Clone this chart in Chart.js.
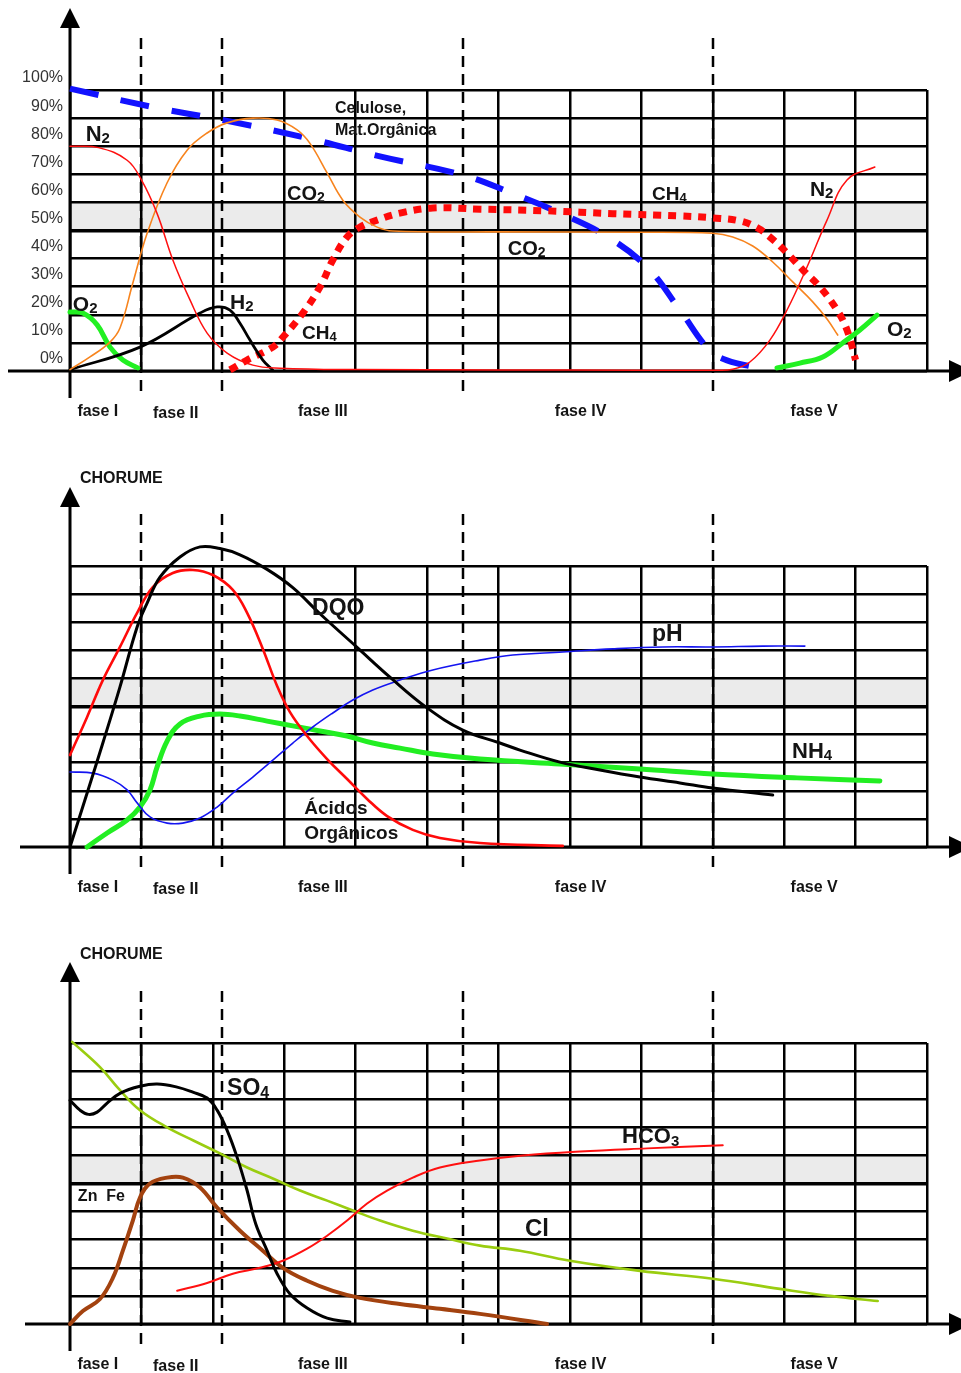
<!DOCTYPE html>
<html>
<head>
<meta charset="utf-8">
<script src="https://cdn.jsdelivr.net/npm/chart.js@4.4.0/dist/chart.umd.min.js"></script>
<style>
html,body{margin:0;padding:0;background:#fff;}
body{width:961px;height:1373px;overflow:hidden;position:relative;}
canvas{position:absolute;left:0;}
</style>
</head>
<body>
<canvas id="c1" width="961" height="476" style="top:-16px"></canvas>
<canvas id="c2" width="961" height="476" style="top:460px"></canvas>
<canvas id="c3" width="961" height="476" style="top:937px"></canvas>
<script>
// ---------------- shared axes / categories ----------------
const X_COLUMNS = 12;                       // grid columns (time units)
const Y_TICKS = [0,10,20,30,40,50,60,70,80,90,100];
const Y_TICK_LABELS = ['0%','10%','20%','30%','40%','50%','60%','70%','80%','90%','100%'];
const BAND = [50, 60];                      // shaded band
const PHASE_BOUNDS = [1, 2.13, 5.5, 9];     // dashed phase separators
const PHASE_NAMES = ['fase I','fase II','fase III','fase IV','fase V'];
const PHASE_NAME_X = [0.39, 1.48, 3.54, 7.15, 10.42];

// ---------------- Panel 1 : gas composition ----------------
const celuloseX = [0, 1.15, 2.2, 3.32, 4.37, 5.49, 6.19, 6.86, 7.53, 8.09, 8.54, 8.95, 9.2, 9.66];
const celuloseY = [100.5, 94, 89, 82.9, 76.2, 69.8, 63.3, 56.2, 47.7, 36.7, 21.7, 7.5, 3.8, 1.0];

const n2X = [0, 0.4, 0.8, 1.0, 1.22, 1.44, 1.68, 1.92, 2.2, 2.56, 2.94, 4.0, 6.0, 8.0, 9.0, 9.28, 9.52, 9.8, 10.04, 10.32, 10.6, 10.88, 11.27];
const n2Y = [80, 79.5, 75, 68, 56, 39.5, 25.3, 13.5, 6.4, 2.1, 1.0, 0.5, 0.4, 0.3, 0.3, 0.6, 3.2, 11, 21.7, 37, 53.7, 68, 72.6];

const co2X = [0, 0.28, 0.56, 0.7, 0.88, 1.08, 1.36, 1.64, 1.92, 2.2, 2.56, 2.9, 3.18, 3.36, 3.6, 3.82, 4.06, 4.3, 4.52, 6.0, 8.0, 9.0, 9.28, 9.56, 9.84, 10.12, 10.4, 10.6, 10.75];
const co2Y = [0.5, 5, 10.3, 15.3, 31.3, 49, 67, 78.6, 84.7, 88.3, 90, 89.3, 85.8, 81, 70.5, 60.8, 54.8, 51.2, 49.8, 49.5, 49.4, 49, 47.7, 44.5, 38.8, 31.7, 24.6, 18.5, 12.8];

const ch4X = [2.24, 2.48, 2.84, 2.98, 3.26, 3.5, 3.68, 3.88, 4.06, 4.3, 4.62, 5.08, 5.74, 6.68, 7.6, 8.54, 9.0, 9.38, 9.62, 9.8, 10.04, 10.26, 10.5, 10.74, 10.88, 11.0];
const ch4Y = [0.4, 3.9, 8.5, 12, 20.6, 29.9, 39.5, 47.7, 51.2, 53.7, 56.2, 58, 57.6, 57, 56, 55.2, 54.5, 53.4, 51, 47.7, 42, 36, 29.9, 21.7, 14.6, 3.9];

const o2StartX = [0, 0.18, 0.38, 0.56, 0.74, 0.95];
const o2StartY = [21, 20.6, 16.4, 8.5, 3.9, 1.1];
const o2EndX = [9.9, 10.22, 10.54, 10.82, 11.06, 11.3];
const o2EndY = [1.1, 2.8, 5, 10, 14.6, 19.9];

const h2X = [0, 0.98, 1.82, 2.06, 2.24, 2.38, 2.52, 2.7, 2.84];
const h2Y = [0.5, 8.5, 20.6, 22.8, 21.7, 17, 11, 3.9, 0.3];

// ---------------- Panel 2 : leachate (DQO, acids, pH, NH4) ----------------
const dqoX = [0, 0.24, 0.46, 0.7, 0.94, 1.08, 1.26, 1.54, 1.82, 2.1, 2.38, 2.76, 3.12, 3.5, 4.0, 4.5, 5.0, 5.5, 6.02, 6.3, 6.86, 7.42, 7.98, 8.54, 9.0, 9.84];
const dqoY = [0, 19.2, 37, 57, 78.3, 86.8, 96, 103.2, 106.8, 106.2, 104, 98.8, 92.3, 83, 71.5, 60, 49.5, 41.6, 37, 34.5, 30.2, 27.4, 24.9, 22.8, 21, 18.5];

const acidosX = [0, 0.24, 0.46, 0.7, 0.94, 1.16, 1.44, 1.72, 2.0, 2.28, 2.48, 2.7, 2.9, 3.08, 3.32, 3.6, 3.88, 4.16, 4.44, 4.8, 5.18, 5.74, 6.9];
const acidosY = [32.7, 46.3, 59.4, 71.2, 83.3, 92.5, 97.5, 98.6, 96.8, 91.5, 83.3, 70.5, 57.3, 48, 39.5, 31.3, 24.2, 17.1, 11, 6.1, 3.2, 1.4, 0.4];

const phX = [0, 0.32, 0.6, 0.8, 0.94, 1.12, 1.36, 1.58, 1.82, 2.06, 2.28, 2.56, 2.84, 3.12, 3.4, 3.68, 3.96, 4.24, 4.62, 5.08, 5.74, 6.2, 6.9, 7.6, 8.3, 9.0, 9.7, 10.29];
const phY = [26.7, 26.3, 23.8, 20.3, 15.7, 10.7, 8.5, 8.5, 10.3, 14.2, 19.2, 24.9, 30.9, 37, 42.7, 47.7, 52.3, 55.9, 59.4, 63, 66.5, 68.3, 69.4, 70.5, 71.2, 71.2, 71.5, 71.5];

const nh4X = [0.24, 0.52, 0.8, 0.98, 1.12, 1.22, 1.36, 1.54, 1.82, 2.1, 2.38, 2.76, 3.12, 3.5, 3.88, 4.24, 4.62, 5.08, 5.74, 6.86, 7.98, 9.0, 10.18, 11.34];
const nh4Y = [0, 5, 9.6, 14.2, 20.3, 28.5, 37.7, 43.8, 46.6, 47.3, 46.6, 44.8, 43.1, 41.3, 39.5, 37, 35.2, 33.1, 31.3, 29.5, 27.8, 26, 24.6, 23.5];

// ---------------- Panel 3 : leachate (Cl, SO4, Zn/Fe, HCO3) ----------------
const clX = [0.03, 0.42, 0.7, 0.98, 1.36, 1.72, 2.1, 2.48, 2.84, 3.22, 3.6, 3.96, 4.34, 4.8, 5.28, 5.74, 6.3, 7.0, 7.98, 9.0, 9.94, 10.64, 11.31];
const clY = [100.4, 91.4, 83.2, 76.1, 70, 65.4, 60.7, 55.7, 51.8, 47.5, 43.9, 40.4, 36.8, 33.2, 30.4, 27.9, 26.1, 22.5, 18.9, 16.1, 12.5, 10, 8.2];

const so4X = [0, 0.14, 0.26, 0.38, 0.52, 0.7, 0.98, 1.22, 1.5, 1.72, 1.92, 2.06, 2.2, 2.34, 2.48, 2.6, 2.76, 2.9, 3.08, 3.32, 3.6, 3.92];
const so4Y = [79.6, 76.1, 74.6, 75.4, 78.6, 82.1, 84.6, 85.4, 84.3, 82.5, 80.4, 76.1, 68.9, 59.3, 47.5, 35.7, 26.1, 17.9, 10.7, 5.7, 2.1, 0.7];

const znFeX = [0, 0.18, 0.42, 0.6, 0.74, 0.88, 0.98, 1.12, 1.36, 1.58, 1.82, 2.06, 2.38, 2.7, 2.98, 3.32, 3.68, 4.06, 4.62, 5.18, 5.74, 6.68];
const znFeY = [0, 4.6, 8.9, 16.4, 26.1, 36.8, 45, 50, 52.1, 52.1, 48.6, 41.4, 33.2, 26.1, 20, 15.4, 11.8, 9.3, 7.1, 5.4, 3.6, 0];

const hco3X = [1.5, 1.92, 2.28, 2.66, 2.98, 3.32, 3.6, 3.88, 4.16, 4.44, 4.8, 5.18, 5.74, 6.34, 7.14, 8.08, 9.14];
const hco3Y = [11.8, 14.6, 17.9, 20, 22.5, 26.8, 31.4, 36.8, 42.9, 47.5, 52.1, 55.7, 58.2, 60, 61.4, 62.5, 63.6];

// ---------------- drawing helpers ----------------
const FONT = '"Liberation Sans", Arial, Helvetica, sans-serif';
const TEXT_COLOR = '#141414';

function drawLabel(ctx, txt, px, py, size, align) {
  ctx.save();
  ctx.fillStyle = TEXT_COLOR;
  ctx.textBaseline = 'alphabetic';
  ctx.textAlign = 'left';
  const base = py + size * 0.36;
  const parts = [];
  for (const ch of txt) {
    const sub = /[0-9]/.test(ch);
    if (parts.length && parts[parts.length - 1].sub === sub) parts[parts.length - 1].t += ch;
    else parts.push({ t: ch, sub });
  }
  let w = 0;
  parts.forEach(p => {
    p.size = p.sub ? Math.round(size * 0.7) : size;
    ctx.font = 'bold ' + p.size + 'px ' + FONT;
    p.w = ctx.measureText(p.t).width;
    w += p.w;
  });
  let x = align === 'center' ? px - w / 2 : px;
  parts.forEach(p => {
    ctx.font = 'bold ' + p.size + 'px ' + FONT;
    ctx.fillText(p.t, x, p.sub ? base + size * 0.1 : base);
    x += p.w;
  });
  ctx.restore();
}

function panelPlugin(cfg) {
  return {
    id: 'panelDecor',
    beforeDraw(chart) {
      const { ctx, scales: { x, y } } = chart;
      ctx.save();
      ctx.fillStyle = '#ebebeb';
      const t = y.getPixelForValue(BAND[1]), b = y.getPixelForValue(BAND[0]);
      const l = x.getPixelForValue(0), r = x.getPixelForValue(X_COLUMNS);
      ctx.fillRect(l, t, r - l, b - t);
      ctx.restore();
    },
    beforeDatasetsDraw(chart) {
      const { ctx, chartArea, scales: { x, y } } = chart;
      ctx.save();
      ctx.strokeStyle = '#000';
      ctx.lineWidth = 2.5;
      ctx.setLineDash([11, 7]);
      PHASE_BOUNDS.forEach(v => {
        const px = Math.round(x.getPixelForValue(v));
        ctx.beginPath();
        ctx.moveTo(px, chartArea.top - 52);
        ctx.lineTo(px, chartArea.bottom + 27);
        ctx.stroke();
      });
      ctx.setLineDash([]);
      const x0 = x.getPixelForValue(0), y0 = y.getPixelForValue(0);
      ctx.lineWidth = 3;
      ctx.beginPath();
      ctx.moveTo(x0, chartArea.top - cfg.arrowTop + 18);
      ctx.lineTo(x0, chartArea.bottom + 27);
      ctx.stroke();
      ctx.beginPath();
      ctx.moveTo(cfg.axisLeft, y0);
      ctx.lineTo(952, y0);
      ctx.stroke();
      ctx.fillStyle = '#000';
      ctx.beginPath();
      ctx.moveTo(x0, chartArea.top - cfg.arrowTop);
      ctx.lineTo(x0 - 10, chartArea.top - cfg.arrowTop + 20);
      ctx.lineTo(x0 + 10, chartArea.top - cfg.arrowTop + 20);
      ctx.closePath();
      ctx.fill();
      ctx.beginPath();
      ctx.moveTo(972, y0);
      ctx.lineTo(949, y0 - 11);
      ctx.lineTo(949, y0 + 11);
      ctx.closePath();
      ctx.fill();
      ctx.restore();
    },
    afterDatasetsDraw(chart) {
      const { ctx, chartArea, scales: { x, y } } = chart;
      PHASE_NAMES.forEach((n, i) => {
        drawLabel(ctx, n, x.getPixelForValue(PHASE_NAME_X[i]), chartArea.bottom + (i === 1 ? 41 : 39), 16, 'center');
      });
      cfg.labels.forEach(L => {
        drawLabel(ctx, L[0], x.getPixelForValue(L[1]), y.getPixelForValue(L[2]), L[3], 'left');
      });
    }
  };
}

function makeChart(id, series, cfg) {
  const datasets = series.map(s => ({
    data: s.x.map((v, i) => ({ x: v, y: s.y[i] })),
    borderColor: s.color,
    borderWidth: s.width,
    borderDash: s.dash || [],
    borderCapStyle: s.dash ? 'butt' : 'round',
    borderJoinStyle: 'round',
    pointRadius: 0,
    fill: false,
    tension: 0.4,
    clip: false
  }));
  return new Chart(document.getElementById(id), {
    type: 'line',
    data: { datasets },
    options: {
      responsive: false,
      animation: false,
      events: [],
      layout: { padding: { top: 106, right: 34, left: 0, bottom: 0 } },
      plugins: { legend: { display: false }, tooltip: { enabled: false } },
      scales: {
        x: {
          type: 'linear', min: 0, max: X_COLUMNS,
          afterFit: s => { s.height = 89; },
          ticks: { display: false, stepSize: 1 },
          grid: { color: '#000', lineWidth: 2.5, drawTicks: false },
          border: { display: false }
        },
        y: {
          type: 'linear', min: 0, max: 100,
          afterFit: s => { s.width = 70; },
          afterBuildTicks: s => { s.ticks = Y_TICKS.map(v => ({ value: v })); },
          ticks: {
            display: cfg.yLabels,
            callback: (v) => Y_TICK_LABELS[Y_TICKS.indexOf(v)],
            labelOffset: -12,
            padding: 7,
            color: '#333',
            font: { family: FONT, size: 16 }
          },
          grid: {
            color: '#000',
            lineWidth: c => (c.tick && c.tick.value === BAND[0]) ? 3.5 : 2.5,
            drawTicks: false
          },
          border: { display: false }
        }
      }
    },
    plugins: [panelPlugin(cfg)]
  });
}

// ---------------- Panel 1 ----------------
makeChart('c1', [
  { x: n2X, y: n2Y, color: '#ff1010', width: 1.5 },
  { x: co2X, y: co2Y, color: '#f7841e', width: 1.6 },
  { x: h2X, y: h2Y, color: '#000000', width: 2.8 },
  { x: o2StartX, y: o2StartY, color: '#22f022', width: 5 },
  { x: o2EndX, y: o2EndY, color: '#22f022', width: 5 },
  { x: ch4X, y: ch4Y, color: '#ff0a0a', width: 7, dash: [8, 7] },
  { x: celuloseX, y: celuloseY, color: '#1212ff', width: 6, dash: [29, 23] }
], {
  yLabels: true, arrowTop: 82, axisLeft: 8,
  labels: [
    ['N2', 0.22, 84.7, 22], ['O2', 0.04, 24.2, 21], ['H2', 2.24, 24.9, 21],
    ['CH4', 3.25, 13.9, 19], ['CO2', 3.04, 63.3, 20],
    ['Celulose,', 3.71, 94, 16], ['Mat.Orgânica', 3.71, 86.1, 16],
    ['CH4', 8.15, 63.3, 19], ['CO2', 6.13, 43.8, 20],
    ['N2', 10.36, 65.1, 21], ['O2', 11.44, 15.3, 21]
  ]
});

// ---------------- Panel 2 ----------------
makeChart('c2', [
  { x: dqoX, y: dqoY, color: '#000000', width: 3 },
  { x: acidosX, y: acidosY, color: '#ff0a0a', width: 2.6 },
  { x: phX, y: phY, color: '#1414f0', width: 1.6 },
  { x: nh4X, y: nh4Y, color: '#22ee22', width: 5 }
], {
  yLabels: false, arrowTop: 79, axisLeft: 20,
  labels: [
    ['CHORUME', 0.14, 131.7, 16],
    ['DQO', 3.39, 85.4, 23], ['pH', 8.15, 76.2, 23], ['NH4', 10.11, 34.5, 22],
    ['Ácidos', 3.28, 14.2, 19], ['Orgânicos', 3.28, 5.3, 19]
  ]
});

// ---------------- Panel 3 ----------------
makeChart('c3', [
  { x: so4X, y: so4Y, color: '#000000', width: 3 },
  { x: hco3X, y: hco3Y, color: '#ff1010', width: 2 },
  { x: znFeX, y: znFeY, color: '#a3420f', width: 4 },
  { x: clX, y: clY, color: '#9acd10', width: 2.6 }
], {
  yLabels: false, arrowTop: 81, axisLeft: 25,
  labels: [
    ['CHORUME', 0.14, 132, 16],
    ['SO4', 2.2, 84.3, 23], ['Zn  Fe', 0.11, 45.7, 16],
    ['HCO3', 7.73, 67.1, 22], ['Cl', 6.37, 34.3, 24]
  ]
});
</script>
</body>
</html>
